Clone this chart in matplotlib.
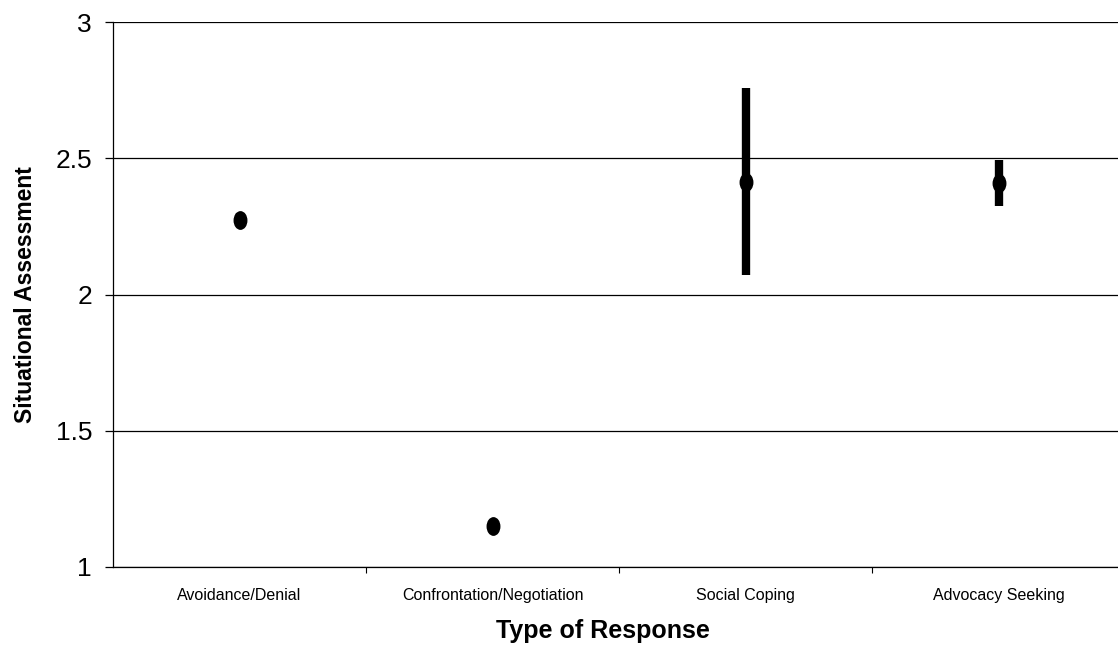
import numpy as np
import matplotlib
matplotlib.use("Agg")
import matplotlib.pyplot as plt
from matplotlib.ticker import FixedLocator
from matplotlib.path import Path
from matplotlib.transforms import Affine2D

plt.rcParams['font.family'] = ['Liberation Sans', 'DejaVu Sans']

# values
categories = ["Avoidance/Denial", "Confrontation/Negotiation", "Social Coping", "Advocacy Seeking"]
means = [2.275, 1.15, 2.415, 2.41]
errors = [0.025, 0.01, 0.345, 0.085]
yticks = [1, 1.5, 2, 2.5, 3]
ytick_labels = ["1", "1.5", "2", "2.5", "3"]

# slightly tall, oval point marker like the scanned original
oval = Affine2D().scale(0.72, 1.0).transform_path(Path.unit_circle())

fig = plt.figure(figsize=(11.18, 6.56), dpi=100)
ax = fig.add_axes([0.101, 0.136, 0.899, 0.830])

x = np.arange(len(categories))

# grid lines
for yv in yticks:
    ax.axhline(yv, color='black', lw=0.9, zorder=1)

ax.errorbar(x, means, yerr=errors, fmt='none', ecolor='black',
            elinewidth=6, capsize=0, zorder=3)
ax.plot(x, means, linestyle='none', marker=oval, ms=12.5, color='black', zorder=4)

ax.set_xlim(-0.5, 3.47)
ax.set_ylim(1, 3)
ax.set_yticks(yticks)
ax.set_yticklabels(ytick_labels, fontsize=19)
ax.set_xticks(x)
ax.set_xticklabels(categories, fontsize=11.5)
ax.xaxis.set_minor_locator(FixedLocator([0.5, 1.5, 2.5]))
ax.tick_params(axis='x', which='major', length=0, pad=15)
ax.tick_params(axis='x', which='minor', length=4, width=0.8, direction='out')
ax.tick_params(axis='y', length=6, width=0.9, direction='out', pad=9)

for s in ['top', 'right']:
    ax.spines[s].set_visible(False)
ax.spines['left'].set_linewidth(0.9)
ax.spines['bottom'].set_linewidth(0.9)

ax.set_ylabel("Situational Assessment", fontsize=16.5, fontweight='bold', labelpad=13)
ax.set_xlabel("Type of Response", fontsize=18, fontweight='bold', labelpad=14)
ax.xaxis.set_label_coords(0.488, -0.095)

fig.savefig("out.png", dpi=100)
